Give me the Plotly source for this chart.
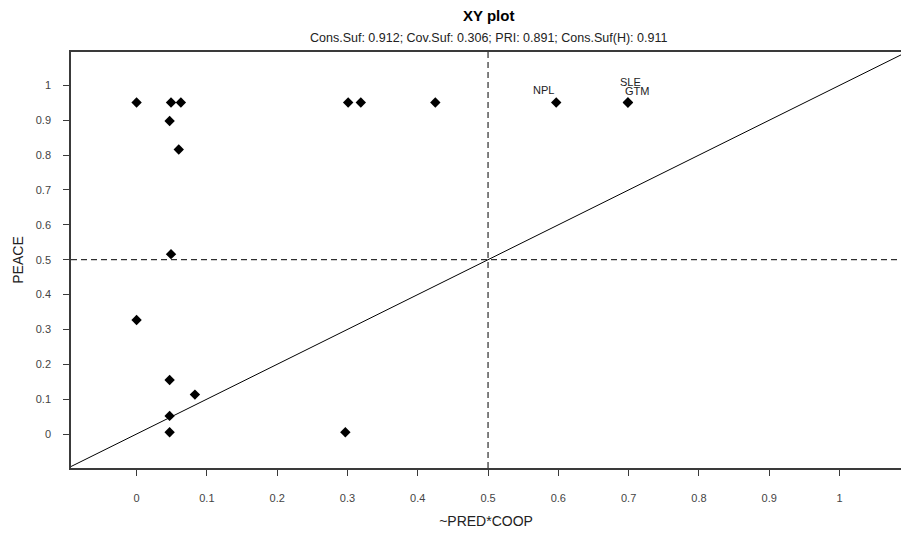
import plotly.graph_objects as go

# Data
x_vals = [0.000, 0.049, 0.063, 0.301, 0.319, 0.425, 0.047, 0.060, 0.049, 0.000,
          0.047, 0.083, 0.047, 0.047, 0.297, 0.597, 0.699, 0.699]
y_vals = [0.951, 0.951, 0.951, 0.951, 0.951, 0.951, 0.898, 0.816, 0.516, 0.327,
          0.155, 0.113, 0.052, 0.005, 0.005, 0.951, 0.951, 0.951]
labels = [""] * 15 + ["NPL", "SLE", "GTM"]
label_shift = {"NPL": (-13, 12), "SLE": (3, 20), "GTM": (9, 11)}

tick_vals = [0, 0.1, 0.2, 0.3, 0.4, 0.5, 0.6, 0.7, 0.8, 0.9, 1]
tick_text = ["0", "0.1", "0.2", "0.3", "0.4", "0.5", "0.6", "0.7", "0.8", "0.9", "1"]

x_range = [-0.0933, 1.0875]
y_range = [-0.0975, 1.0958]
threshold = 0.5

title = "XY plot"
subtitle = "Cons.Suf: 0.912; Cov.Suf: 0.306; PRI: 0.891; Cons.Suf(H): 0.911"
x_title = "~PRED*COOP"
y_title = "PEACE"

FONT = "Liberation Sans, Arial, sans-serif"

fig = go.Figure()

# diagonal y = x
fig.add_trace(go.Scatter(x=[-0.2, 1.2], y=[-0.2, 1.2], mode="lines",
                         line=dict(color="black", width=1), hoverinfo="skip",
                         showlegend=False))

fig.add_trace(go.Scatter(x=x_vals, y=y_vals, mode="markers",
                         marker=dict(symbol="diamond", size=8, color="black"),
                         showlegend=False))

# threshold lines
fig.add_shape(type="line", xref="x", yref="y", x0=threshold, x1=threshold,
              y0=y_range[0], y1=y_range[1],
              line=dict(color="black", width=1, dash="6px,4px"))
fig.add_shape(type="line", xref="x", yref="y", x0=x_range[0], x1=x_range[1],
              y0=threshold, y1=threshold,
              line=dict(color="black", width=1, dash="6px,4px"))

for xv, yv, lb in zip(x_vals, y_vals, labels):
    if lb:
        dx, dy = label_shift[lb]
        fig.add_annotation(x=xv, y=yv, text=lb, showarrow=False, xshift=dx, yshift=dy,
                           font=dict(family=FONT, size=11, color="#222"))

# Title and subtitle placed above the plot area
fig.add_annotation(x=threshold, xref="x", y=1, yref="paper", yshift=37, yanchor="middle",
                   text="<b>" + title + "</b>", showarrow=False,
                   font=dict(family=FONT, size=15, color="black"))
fig.add_annotation(x=threshold, xref="x", y=1, yref="paper", yshift=14, yanchor="middle",
                   text=subtitle, showarrow=False,
                   font=dict(family=FONT, size=12.5, color="#222"))

fig.update_layout(
    width=901, height=533,
    margin=dict(l=71, r=0, t=52, b=65),
    plot_bgcolor="white", paper_bgcolor="white",
    font=dict(family=FONT, size=11, color="#333"),
    xaxis=dict(range=x_range, tickvals=tick_vals, ticktext=tick_text,
               showgrid=False, zeroline=False, showline=True, mirror=True,
               linecolor="#3a3a3a", linewidth=1.5, ticks="outside", ticklen=6,
               tickcolor="#3a3a3a", ticklabelstandoff=13,
               tickfont=dict(family=FONT, size=11, color="#444"),
               title=dict(text=x_title, standoff=13,
                          font=dict(family=FONT, size=14, color="#222"))),
    yaxis=dict(range=y_range, tickvals=tick_vals, ticktext=tick_text,
               showgrid=False, zeroline=False, showline=True, mirror=False,
               linecolor="#3a3a3a", linewidth=1.5, ticks="outside", ticklen=6,
               tickcolor="#3a3a3a", ticklabelstandoff=10,
               tickfont=dict(family=FONT, size=11, color="#444"),
               title=dict(text=y_title, standoff=9,
                          font=dict(family=FONT, size=14, color="#222"))),
)

fig.write_html("out.html")
